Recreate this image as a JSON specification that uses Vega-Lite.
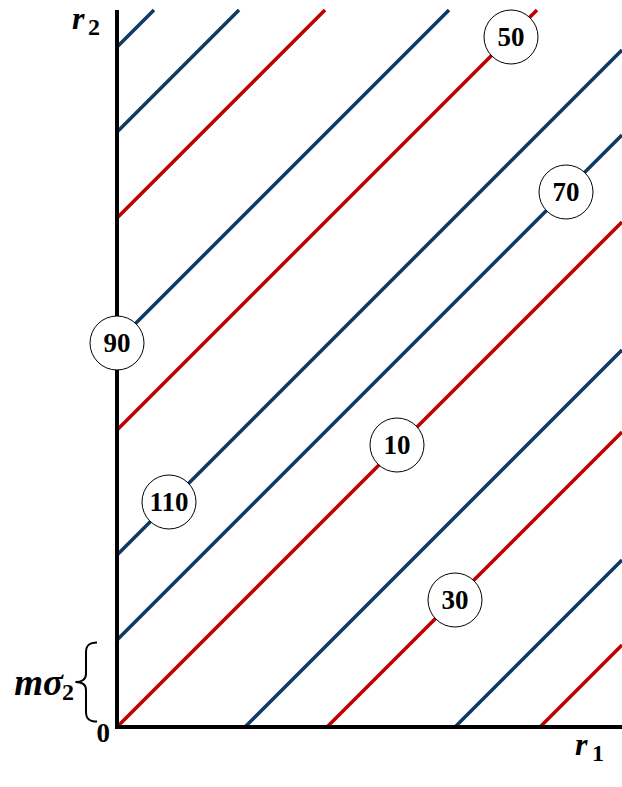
{
  "$schema": "https://vega.github.io/schema/vega-lite/v6.json",
  "width": 622,
  "height": 787,
  "autosize": {"type": "none"},
  "padding": 0,
  "background": "white",
  "config": {"view": {"stroke": null}},
  "layer": [
    {
      "data": {"values": [
        {"id": 1, "kind": "blue", "r1": 0, "r2": 680}, {"id": 1, "kind": "blue", "r1": 37, "r2": 717},
        {"id": 2, "kind": "blue", "r1": 0, "r2": 595}, {"id": 2, "kind": "blue", "r1": 122, "r2": 717},
        {"id": 3, "kind": "red", "r1": 0, "r2": 509}, {"id": 3, "kind": "red", "r1": 208, "r2": 717},
        {"id": 4, "kind": "blue", "r1": 0, "r2": 385}, {"id": 4, "kind": "blue", "r1": 332, "r2": 717},
        {"id": 5, "kind": "red", "r1": 0, "r2": 297}, {"id": 5, "kind": "red", "r1": 420, "r2": 717},
        {"id": 6, "kind": "blue", "r1": 0, "r2": 172}, {"id": 6, "kind": "blue", "r1": 505, "r2": 677},
        {"id": 7, "kind": "blue", "r1": 0, "r2": 87}, {"id": 7, "kind": "blue", "r1": 505, "r2": 592},
        {"id": 8, "kind": "red", "r1": 0, "r2": 0}, {"id": 8, "kind": "red", "r1": 505, "r2": 505},
        {"id": 9, "kind": "blue", "r1": 128, "r2": 0}, {"id": 9, "kind": "blue", "r1": 505, "r2": 377},
        {"id": 10, "kind": "red", "r1": 210, "r2": 0}, {"id": 10, "kind": "red", "r1": 505, "r2": 295},
        {"id": 11, "kind": "blue", "r1": 338, "r2": 0}, {"id": 11, "kind": "blue", "r1": 505, "r2": 167},
        {"id": 12, "kind": "red", "r1": 423, "r2": 0}, {"id": 12, "kind": "red", "r1": 505, "r2": 82}
      ]},
      "mark": {"type": "line", "strokeWidth": 3.5, "strokeCap": "butt"},
      "encoding": {
        "x": {"field": "r1", "type": "quantitative", "scale": {"domain": [-117, 505], "nice": false, "zero": false}, "axis": null},
        "y": {"field": "r2", "type": "quantitative", "scale": {"domain": [-60, 727], "nice": false, "zero": false}, "axis": null},
        "detail": {"field": "id"},
        "color": {"field": "kind", "type": "nominal", "scale": {"domain": ["red", "blue"], "range": ["#C00000", "#0F3A62"]}, "legend": null}
      }
    },
    {
      "data": {"values": [
        {"r1": 0, "r2": -2, "r1e": 0, "r2e": 717},
        {"r1": -2, "r2": 0, "r1e": 505, "r2e": 0}
      ]},
      "mark": {"type": "rule", "strokeWidth": 4, "color": "black", "strokeCap": "butt"},
      "encoding": {
        "x": {"field": "r1", "type": "quantitative", "scale": {"domain": [-117, 505], "nice": false, "zero": false}, "axis": null},
        "y": {"field": "r2", "type": "quantitative", "scale": {"domain": [-60, 727], "nice": false, "zero": false}, "axis": null},
        "x2": {"field": "r1e"},
        "y2": {"field": "r2e"}
      }
    },
    {
      "data": {"values": [
        {"label": "50", "r1": 394, "r2": 690},
        {"label": "70", "r1": 449, "r2": 535},
        {"label": "90", "r1": 0, "r2": 384},
        {"label": "10", "r1": 280, "r2": 282},
        {"label": "110", "r1": 52, "r2": 225},
        {"label": "30", "r1": 338, "r2": 127}
      ]},
      "encoding": {
        "x": {"field": "r1", "type": "quantitative", "scale": {"domain": [-117, 505], "nice": false, "zero": false}, "axis": null},
        "y": {"field": "r2", "type": "quantitative", "scale": {"domain": [-60, 727], "nice": false, "zero": false}, "axis": null}
      },
      "layer": [
        {"mark": {"type": "point", "shape": "circle", "size": 2916, "filled": true, "fill": "white", "stroke": "black", "strokeWidth": 1, "opacity": 1}},
        {"mark": {"type": "text", "font": "Liberation Serif", "fontWeight": "bold", "fontSize": 27, "baseline": "middle", "align": "center", "dy": 1, "color": "black"},
         "encoding": {"text": {"field": "label"}}}
      ]
    },
    {
      "data": {"values": [{"r1": -31, "r2": 45}]},
      "mark": {"type": "point", "shape": "M0.28,-1 C0.08,-1 0,-0.93 0,-0.75 L0,-0.2 C0,-0.07 -0.1,0 -0.27,0 C-0.1,0 0,0.07 0,0.2 L0,0.75 C0,0.93 0.08,1 0.28,1", "size": 6241, "filled": false, "stroke": "black", "strokeWidth": 2, "opacity": 1},
      "encoding": {
        "x": {"field": "r1", "type": "quantitative", "scale": {"domain": [-117, 505], "nice": false, "zero": false}, "axis": null},
        "y": {"field": "r2", "type": "quantitative", "scale": {"domain": [-60, 727], "nice": false, "zero": false}, "axis": null}
      }
    },
    {
      "data": {"values": [
        {"t": "r", "r1": -45, "r2": 698},
        {"t": "r", "r1": 458, "r2": -28}
      ]},
      "mark": {"type": "text", "font": "Liberation Serif", "fontWeight": "bold", "fontStyle": "italic", "fontSize": 32, "baseline": "alphabetic", "align": "left", "color": "black"},
      "encoding": {
        "x": {"field": "r1", "type": "quantitative", "scale": {"domain": [-117, 505], "nice": false, "zero": false}, "axis": null},
        "y": {"field": "r2", "type": "quantitative", "scale": {"domain": [-60, 727], "nice": false, "zero": false}, "axis": null},
        "text": {"field": "t"}
      }
    },
    {
      "data": {"values": [
        {"t": "mσ", "r1": -54, "r2": 32}
      ]},
      "mark": {"type": "text", "font": "Liberation Serif", "fontWeight": "bold", "fontStyle": "italic", "fontSize": 37, "baseline": "alphabetic", "align": "right", "color": "black"},
      "encoding": {
        "x": {"field": "r1", "type": "quantitative", "scale": {"domain": [-117, 505], "nice": false, "zero": false}, "axis": null},
        "y": {"field": "r2", "type": "quantitative", "scale": {"domain": [-60, 727], "nice": false, "zero": false}, "axis": null},
        "text": {"field": "t"}
      }
    },
    {
      "data": {"values": [
        {"t": "2", "r1": -29, "r2": 692},
        {"t": "1", "r1": 475, "r2": -34},
        {"t": "2", "r1": -55, "r2": 27}
      ]},
      "mark": {"type": "text", "font": "Liberation Serif", "fontWeight": "bold", "fontSize": 24, "baseline": "alphabetic", "align": "left", "color": "black"},
      "encoding": {
        "x": {"field": "r1", "type": "quantitative", "scale": {"domain": [-117, 505], "nice": false, "zero": false}, "axis": null},
        "y": {"field": "r2", "type": "quantitative", "scale": {"domain": [-60, 727], "nice": false, "zero": false}, "axis": null},
        "text": {"field": "t"}
      }
    },
    {
      "data": {"values": [{"t": "0", "r1": -7, "r2": -15}]},
      "mark": {"type": "text", "font": "Liberation Serif", "fontWeight": "bold", "fontSize": 27, "baseline": "alphabetic", "align": "right", "color": "black"},
      "encoding": {
        "x": {"field": "r1", "type": "quantitative", "scale": {"domain": [-117, 505], "nice": false, "zero": false}, "axis": null},
        "y": {"field": "r2", "type": "quantitative", "scale": {"domain": [-60, 727], "nice": false, "zero": false}, "axis": null},
        "text": {"field": "t"}
      }
    }
  ]
}
